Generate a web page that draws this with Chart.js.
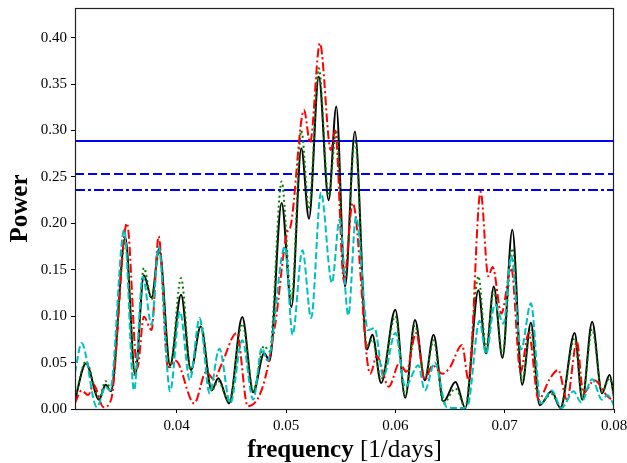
<!DOCTYPE html>
<html>
<head>
<meta charset="utf-8">
<script src="https://cdn.jsdelivr.net/npm/chart.js@4.4.0/dist/chart.umd.min.js"></script>
<style>
  body { margin: 0; background: #fff; }
</style>
</head>
<body>
<canvas id="periodogram" width="627" height="463"></canvas>
<script>
// axis ticks and ranges
const xTicks = [0.04, 0.05, 0.06, 0.07, 0.08];
const yTicks = [0, 0.05, 0.10, 0.15, 0.20, 0.25, 0.30, 0.35, 0.40];
const freqRange = [0.0307, 0.08];
const powerMax = 0.432;

// false alarm levels (solid, dashed, dash-dot)
const levels = [0.2888, 0.2532, 0.236];

// periodograms, [frequency, power]
const blackCurve = [[0.0307,0.010],[0.0317,0.049],[0.0329,0.010],[0.0335,0.026],[0.0340,0.019],[0.0353,0.185],[0.0362,0.037],[0.0370,0.144],[0.0377,0.120],[0.0384,0.173],[0.0394,0.047],[0.0404,0.123],[0.0413,0.042],[0.0422,0.089],[0.0432,0.020],[0.0438,0.033],[0.0448,0.006],[0.0460,0.099],[0.0470,0.018],[0.0480,0.060],[0.0485,0.052],[0.0496,0.222],[0.0505,0.110],[0.0514,0.281],[0.0521,0.205],[0.0530,0.358],[0.0539,0.225],[0.0546,0.326],[0.0554,0.132],[0.0563,0.299],[0.0574,0.064],[0.0579,0.080],[0.0587,0.028],[0.0600,0.107],[0.0609,0.012],[0.0618,0.096],[0.0627,0.031],[0.0635,0.080],[0.0644,0.008],[0.0655,0.029],[0.0664,0.001],[0.0676,0.128],[0.0683,0.060],[0.0690,0.132],[0.0698,0.055],[0.0707,0.193],[0.0716,0.026],[0.0724,0.093],[0.0732,0.004],[0.0743,0.019],[0.0751,0.001],[0.0764,0.082],[0.0771,0.010],[0.0780,0.094],[0.0789,0.017],[0.0796,0.037],[0.0800,0.013]];
const greenCurve = [[0.0307,0.012],[0.0317,0.051],[0.0329,0.012],[0.0335,0.030],[0.0340,0.022],[0.0353,0.180],[0.0362,0.035],[0.0370,0.152],[0.0377,0.118],[0.0384,0.170],[0.0394,0.045],[0.0404,0.141],[0.0413,0.040],[0.0422,0.092],[0.0432,0.020],[0.0438,0.030],[0.0448,0.008],[0.0460,0.092],[0.0470,0.020],[0.0480,0.068],[0.0485,0.062],[0.0496,0.245],[0.0505,0.118],[0.0514,0.300],[0.0521,0.215],[0.0530,0.367],[0.0539,0.230],[0.0546,0.300],[0.0554,0.140],[0.0563,0.290],[0.0574,0.068],[0.0579,0.075],[0.0587,0.032],[0.0600,0.100],[0.0609,0.014],[0.0618,0.090],[0.0627,0.033],[0.0635,0.074],[0.0644,0.006],[0.0655,0.022],[0.0664,0.002],[0.0676,0.143],[0.0683,0.065],[0.0690,0.128],[0.0698,0.058],[0.0707,0.173],[0.0716,0.030],[0.0724,0.086],[0.0732,0.006],[0.0743,0.016],[0.0751,0.002],[0.0764,0.076],[0.0771,0.012],[0.0780,0.086],[0.0789,0.018],[0.0796,0.033],[0.0800,0.013]];
const redCurve = [[0.0307,0.0065],[0.0313,0.020],[0.0319,0.015],[0.0324,0.026],[0.0333,0.002],[0.0340,0.010],[0.03545,0.200],[0.0364,0.044],[0.0370,0.0995],[0.0377,0.085],[0.03835,0.186],[0.0392,0.045],[0.0399,0.052],[0.0416,0.006],[0.0427,0.040],[0.0434,0.032],[0.0441,0.048],[0.0455,0.082],[0.0465,0.003],[0.0479,0.025],[0.0490,0.090],[0.0501,0.190],[0.0504,0.196],[0.05165,0.322],[0.0522,0.287],[0.0531,0.394],[0.0541,0.279],[0.0545,0.300],[0.0553,0.138],[0.0561,0.222],[0.0577,0.038],[0.0583,0.057],[0.0594,0.024],[0.0604,0.050],[0.0610,0.040],[0.0619,0.082],[0.0627,0.031],[0.0634,0.047],[0.0643,0.038],[0.0650,0.045],[0.0661,0.069],[0.0667,0.031],[0.0678,0.234],[0.0685,0.143],[0.0689,0.153],[0.0697,0.103],[0.0706,0.152],[0.07145,0.040],[0.0722,0.082],[0.0731,0.010],[0.0741,0.032],[0.0749,0.042],[0.0757,0.010],[0.0766,0.0725],[0.0772,0.017],[0.0782,0.031],[0.0793,0.015],[0.0800,0.008]];
const cyanCurve = [[0.0307,0.039],[0.0313,0.071],[0.0327,0.002],[0.0335,0.024],[0.0339,0.020],[0.0352,0.193],[0.0361,0.020],[0.0369,0.1425],[0.0377,0.0905],[0.03835,0.175],[0.0394,0.019],[0.0403,0.105],[0.0412,0.031],[0.0421,0.098],[0.0430,0.017],[0.0439,0.065],[0.0449,0.006],[0.0460,0.074],[0.0470,0.010],[0.0478,0.066],[0.0483,0.052],[0.0499,0.175],[0.0506,0.080],[0.0515,0.171],[0.0523,0.098],[0.0532,0.233],[0.0542,0.136],[0.0549,0.204],[0.0557,0.101],[0.0564,0.207],[0.0575,0.085],[0.0581,0.087],[0.0589,0.035],[0.0600,0.082],[0.0609,0.024],[0.0621,0.047],[0.0627,0.020],[0.0636,0.050],[0.0647,0.002],[0.0659,0.001],[0.0666,0.003],[0.0677,0.095],[0.0683,0.059],[0.0691,0.113],[0.0699,0.092],[0.0706,0.165],[0.0715,0.064],[0.0724,0.114],[0.0733,0.006],[0.0743,0.020],[0.0752,0.001],[0.0763,0.019],[0.0770,0.007],[0.0780,0.032],[0.0789,0.010],[0.0794,0.015],[0.0800,0.004]];

const toPoints = arr => arr.map(([x, y]) => ({ x, y }));
const levelLine = y => [{ x: freqRange[0], y }, { x: freqRange[1], y }];

const serif = '"Liberation Serif", "DejaVu Serif", serif';

// frame round the plot plus the two axis titles (x title mixes bold and regular)
const framePlugin = {
  id: 'frame',
  afterDraw(chart) {
    const { ctx, chartArea: a } = chart;
    ctx.save();
    ctx.strokeStyle = '#222';
    ctx.lineWidth = 1.2;
    ctx.strokeRect(a.left + 0.5, a.top + 0.5, a.right - a.left - 1, a.bottom - a.top);
    ctx.fillStyle = '#000';
    ctx.textBaseline = 'alphabetic';

    const bold = 'bold 25px ' + serif;
    const reg = '25px ' + serif;
    ctx.font = bold;
    const w1 = ctx.measureText('frequency').width;
    ctx.font = reg;
    const w2 = ctx.measureText(' [1/days]').width;
    let x0 = (a.left + a.right) / 2 - (w1 + w2) / 2;
    ctx.font = bold;
    ctx.fillText('frequency', x0, 457);
    ctx.font = reg;
    ctx.fillText(' [1/days]', x0 + w1, 457);

    ctx.translate(27, (a.top + a.bottom) / 2);
    ctx.rotate(-Math.PI / 2);
    ctx.textAlign = 'center';
    ctx.font = bold;
    ctx.fillText('Power', 0, 0);
    ctx.restore();
  }
};

const lineBase = { pointRadius: 0, borderWidth: 2, fill: false, cubicInterpolationMode: 'monotone' };

new Chart(document.getElementById('periodogram').getContext('2d'), {
  type: 'line',
  data: {
    datasets: [
      { ...lineBase, data: toPoints(cyanCurve), borderColor: '#00bfbf', borderDash: [7, 3], order: 1 },
      { ...lineBase, data: toPoints(redCurve), borderColor: '#ff0000', borderDash: [9, 3, 2, 3], order: 2 },
      { ...lineBase, data: toPoints(greenCurve), borderColor: '#008000', borderDash: [2, 3], order: 3 },
      { ...lineBase, data: toPoints(blackCurve), borderColor: '#000000', order: 4 },
      { ...lineBase, data: levelLine(levels[0]), borderColor: '#0000ff', order: 5 },
      { ...lineBase, data: levelLine(levels[1]), borderColor: '#0000ff', borderDash: [9, 4], order: 5 },
      { ...lineBase, data: levelLine(levels[2]), borderColor: '#0000ff', borderDash: [10, 3, 3, 3], order: 5 }
    ]
  },
  options: {
    responsive: false,
    animation: false,
    layout: { padding: { top: 8, right: 13, left: 0, bottom: 0 } },
    plugins: { legend: { display: false }, tooltip: { enabled: false } },
    scales: {
      x: {
        type: 'linear',
        min: freqRange[0],
        max: freqRange[1],
        afterBuildTicks: s => { s.ticks = xTicks.map(v => ({ value: v })); },
        afterFit: s => { s.height = 54; s.paddingLeft = 0; s.paddingRight = 0; },
        grid: { drawOnChartArea: false, color: '#000', tickLength: 4 },
        border: { display: false },
        ticks: { color: '#000', padding: 4, maxRotation: 0, font: { family: serif, size: 15 },
                 callback: v => v.toFixed(2) }
      },
      y: {
        min: 0,
        max: powerMax,
        afterBuildTicks: s => { s.ticks = yTicks.map(v => ({ value: v })); },
        afterFit: s => { s.width = 75; s.paddingTop = 0; s.paddingBottom = 0; },
        grid: { drawOnChartArea: false, color: '#000', tickLength: 4 },
        border: { display: false },
        ticks: { color: '#000', padding: 4, font: { family: serif, size: 15 },
                 callback: v => v.toFixed(2) }
      }
    }
  },
  plugins: [framePlugin]
});
</script>
</body>
</html>
